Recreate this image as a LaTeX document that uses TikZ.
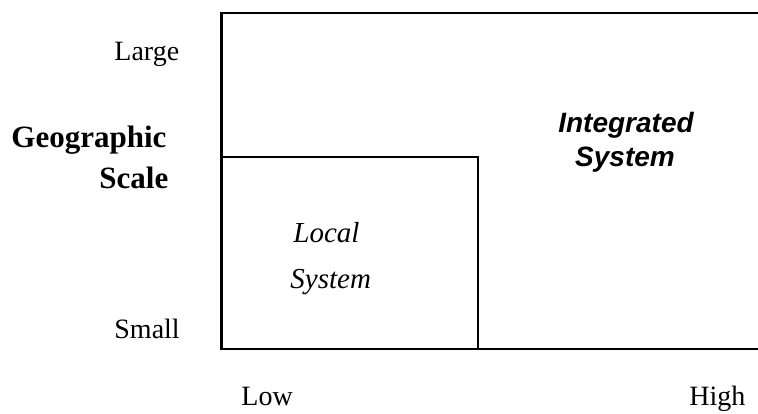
\documentclass[tikz,border=0pt]{standalone}
\usepackage{fontspec}
\setmainfont{Liberation Serif}
\newfontfamily\arialfont{Liberation Sans}
\begin{document}
\begin{tikzpicture}[x=0.5pt,y=-0.5pt,
  frame/.style={line width=1.15pt, line cap=butt},
  lbl/.style={inner sep=0pt, anchor=base west, font=\fontsize{14pt}{16pt}\selectfont},
  axisttl/.style={inner sep=0pt, anchor=base west, font=\fontsize{15.5pt}{18pt}\selectfont\bfseries},
  localtxt/.style={inner sep=0pt, anchor=base west, font=\fontsize{14.5pt}{17pt}\selectfont\itshape},
  integtxt/.style={inner sep=0pt, anchor=base, font=\arialfont\fontsize{14pt}{17pt}\selectfont\bfseries\itshape}]
\useasboundingbox (0,0) rectangle (758,413);
% outer frame (open to the right edge)
\coordinate (tr) at (758,13);
\coordinate (tl) at (221.5,13);
\coordinate (bl) at (221.5,349);
\coordinate (br) at (758,349);
\draw[frame] (tr) -- (tl) -- (bl) -- (br);
% inner box
\coordinate (itl) at (221.5,157);
\coordinate (itr) at (478,157);
\coordinate (ibr) at (478,349);
\draw[frame] (itl) -- (itr) -- (ibr);
% labels
\node[lbl] (large) at (114,60) {Large};
\node[lbl] (small) at (114,338) {Small};
\node[lbl] (low) at (241,405) {Low};
\node[lbl] (high) at (689,405) {High};
\node[axisttl] (geo) at (11,147) {Geographic};
\node[axisttl] (scale) at (99,188) {Scale};
\node[localtxt] (local1) at (293,242) {Local};
\node[localtxt] (local2) at (290,288) {System};
\node[integtxt] (int1) at (626,132) {Integrated};
\node[integtxt] (int2) at (625,166) {System};
\end{tikzpicture}
\end{document}
